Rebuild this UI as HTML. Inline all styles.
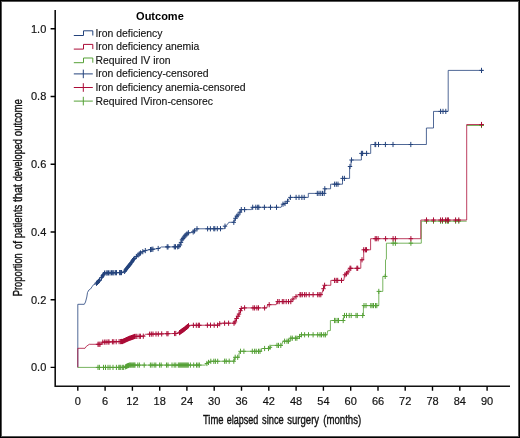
<!DOCTYPE html>
<html><head><meta charset="utf-8"><style>
html,body{margin:0;padding:0;background:#fff;}
body{width:520px;height:438px;overflow:hidden;}
.frame{position:absolute;left:0;top:0;width:520px;height:438px;box-sizing:border-box;border:1px solid #000;box-shadow:inset 0 0 0 1px #555;}
svg{position:absolute;left:0;top:0;will-change:transform;font-family:"Liberation Sans",sans-serif;}
</style></head><body>
<svg width="520" height="438" viewBox="0 0 520 438">
<path d="M55.2 10V386.3H510" fill="none" stroke="#111" stroke-width="1.6"/>
<path d="M50.6 367.4H55.2M50.6 299.7H55.2M50.6 232.0H55.2M50.6 164.2H55.2M50.6 96.5H55.2M50.6 28.8H55.2M77.8 386.3V390.8M105.1 386.3V390.8M132.4 386.3V390.8M159.7 386.3V390.8M186.9 386.3V390.8M214.2 386.3V390.8M241.5 386.3V390.8M268.8 386.3V390.8M296.1 386.3V390.8M323.4 386.3V390.8M350.7 386.3V390.8M378.0 386.3V390.8M405.2 386.3V390.8M432.5 386.3V390.8M459.8 386.3V390.8M487.1 386.3V390.8" fill="none" stroke="#000" stroke-width="1.4"/>
<g font-size="11" fill="#111" stroke="#111" stroke-width="0.18"><text x="46.3" y="371.3" text-anchor="end">0.0</text><text x="46.3" y="303.6" text-anchor="end">0.2</text><text x="46.3" y="235.9" text-anchor="end">0.4</text><text x="46.3" y="168.1" text-anchor="end">0.6</text><text x="46.3" y="100.4" text-anchor="end">0.8</text><text x="46.3" y="32.7" text-anchor="end">1.0</text><text x="77.8" y="405.2" text-anchor="middle">0</text><text x="105.1" y="405.2" text-anchor="middle">6</text><text x="132.4" y="405.2" text-anchor="middle">12</text><text x="159.7" y="405.2" text-anchor="middle">18</text><text x="186.9" y="405.2" text-anchor="middle">24</text><text x="214.2" y="405.2" text-anchor="middle">30</text><text x="241.5" y="405.2" text-anchor="middle">36</text><text x="268.8" y="405.2" text-anchor="middle">42</text><text x="296.1" y="405.2" text-anchor="middle">48</text><text x="323.4" y="405.2" text-anchor="middle">54</text><text x="350.7" y="405.2" text-anchor="middle">60</text><text x="378.0" y="405.2" text-anchor="middle">66</text><text x="405.2" y="405.2" text-anchor="middle">72</text><text x="432.5" y="405.2" text-anchor="middle">78</text><text x="459.8" y="405.2" text-anchor="middle">84</text><text x="487.1" y="405.2" text-anchor="middle">90</text></g>
<g font-size="13.4" fill="#111" stroke="#111" stroke-width="0.4"><text x="202.9" y="424.4" textLength="20.6" lengthAdjust="spacingAndGlyphs">Time</text><text x="226.7" y="424.4" textLength="31.6" lengthAdjust="spacingAndGlyphs">elapsed</text><text x="262.0" y="424.4" textLength="21.7" lengthAdjust="spacingAndGlyphs">since</text><text x="287.3" y="424.4" textLength="31.8" lengthAdjust="spacingAndGlyphs">surgery</text><text x="323.2" y="424.4" textLength="38.0" lengthAdjust="spacingAndGlyphs">(months)</text></g>
<g transform="translate(22.1 295.9) rotate(-90)" font-size="13.4" fill="#111" stroke="#111" stroke-width="0.4"><text x="-0.4" y="0" textLength="43.1" lengthAdjust="spacingAndGlyphs">Proportion</text><text x="46.7" y="0" textLength="8.2" lengthAdjust="spacingAndGlyphs">of</text><text x="57.6" y="0" textLength="33.7" lengthAdjust="spacingAndGlyphs">patients</text><text x="93.9" y="0" textLength="17.8" lengthAdjust="spacingAndGlyphs">that</text><text x="114.7" y="0" textLength="42.1" lengthAdjust="spacingAndGlyphs">developed</text><text x="159.7" y="0" textLength="37.2" lengthAdjust="spacingAndGlyphs">outcome</text></g>
<path d="M77.8 367.4L77.8 304.3L84.3 304.3L85.5 302.0L86.8 297.0L87.5 292.5L88.9 290.0L90.5 289.0L92.0 286.8L93.5 284.7L95.5 284.2L99.5 280.5L100.5 279.5L101.5 277.5L104.6 273.0L123.8 272.5L124.5 271.5L127.0 268.0L130.0 264.5L133.0 260.2L134.5 258.2L137.0 256.0L140.0 253.3L143.0 251.6L146.0 250.3L151.7 249.4L158.5 248.5L161.3 247.0L178.5 246.8L180.0 245.0L182.0 239.8L185.0 235.8L188.2 232.8L192.5 232.5L195.0 230.5L197.0 228.8L224.8 228.7L225.0 226.2L227.3 224.6L228.8 222.3L234.0 222.3L235.0 218.8L236.9 216.2L238.8 214.2L240.4 211.5L241.0 209.6L251.5 209.6L252.3 207.3L281.1 207.3L282.3 204.5L285.0 203.5L287.5 201.3L289.0 199.0L290.0 197.4L308.3 197.4L308.3 193.4L324.8 193.4L324.8 188.8L330.6 188.8L330.6 184.2L342.5 184.2L342.5 178.4L349.6 178.4L349.6 166.5L351.0 166.5L351.0 160.0L361.4 160.0L361.4 153.4L370.7 153.4L370.7 144.5L426.4 144.5L426.4 128.0L433.5 128.0L433.5 111.4L448.2 111.4L448.2 70.4L483.5 70.4" fill="none" stroke="#24437c" stroke-width="0.8"/>
<path d="M94.3 283.3h4.4M96.5 280.7v5.2M95.3 282.4h4.4M97.5 279.8v5.2M96.3 281.4h4.4M98.5 278.8v5.2M97.3 280.5h4.4M99.5 277.9v5.2M99.3 277.5h4.4M101.5 274.9v5.2M100.3 276.0h4.4M102.5 273.4v5.2M101.3 274.6h4.4M103.5 272.0v5.2M102.3 273.1h4.4M104.5 270.5v5.2M104.0 273.0h4.4M106.2 270.4v5.2M105.1 272.9h4.4M107.3 270.3v5.2M106.3 272.9h4.4M108.5 270.3v5.2M107.8 272.9h4.4M110.0 270.3v5.2M109.3 272.8h4.4M111.5 270.2v5.2M110.5 272.8h4.4M112.7 270.2v5.2M111.6 272.8h4.4M113.8 270.2v5.2M113.2 272.7h4.4M115.4 270.1v5.2M114.3 272.7h4.4M116.5 270.1v5.2M117.4 272.6h4.4M119.6 270.0v5.2M118.2 272.6h4.4M120.4 270.0v5.2M119.3 272.6h4.4M121.5 270.0v5.2M122.4 271.4h4.4M124.6 268.8v5.2M123.3 270.1h4.4M125.5 267.5v5.2M124.3 268.7h4.4M126.5 266.1v5.2M125.3 267.4h4.4M127.5 264.8v5.2M126.3 266.2h4.4M128.5 263.6v5.2M127.3 265.1h4.4M129.5 262.5v5.2M128.3 263.8h4.4M130.5 261.2v5.2M129.3 262.4h4.4M131.5 259.8v5.2M130.3 260.9h4.4M132.5 258.3v5.2M131.3 259.5h4.4M133.5 256.9v5.2M132.1 258.5h4.4M134.3 255.9v5.2M134.2 256.5h4.4M136.4 253.9v5.2M135.8 255.1h4.4M138.0 252.5v5.2M137.1 253.9h4.4M139.3 251.3v5.2M138.3 253.0h4.4M140.5 250.4v5.2M140.6 251.7h4.4M142.8 249.1v5.2M143.1 250.6h4.4M145.3 248.0v5.2M148.3 249.6h4.4M150.5 247.0v5.2M149.5 249.4h4.4M151.7 246.8v5.2M150.7 249.2h4.4M152.9 246.6v5.2M156.0 248.5h4.4M158.2 245.9v5.2M165.0 246.9h4.4M167.2 244.3v5.2M165.8 246.9h4.4M168.0 244.3v5.2M172.1 246.8h4.4M174.3 244.2v5.2M173.3 246.8h4.4M175.5 244.2v5.2M175.5 246.8h4.4M177.7 244.2v5.2M176.6 246.4h4.4M178.8 243.8v5.2M177.8 245.0h4.4M180.0 242.4v5.2M178.8 242.4h4.4M181.0 239.8v5.2M179.8 239.8h4.4M182.0 237.2v5.2M180.8 238.5h4.4M183.0 235.9v5.2M181.8 237.1h4.4M184.0 234.5v5.2M182.8 235.8h4.4M185.0 233.2v5.2M183.8 234.9h4.4M186.0 232.3v5.2M184.8 233.9h4.4M187.0 231.3v5.2M186.2 232.8h4.4M188.4 230.2v5.2M191.0 231.9h4.4M193.2 229.3v5.2M192.3 230.9h4.4M194.5 228.3v5.2M194.8 228.8h4.4M197.0 226.2v5.2M205.4 228.8h4.4M207.6 226.2v5.2M208.2 228.8h4.4M210.4 226.2v5.2M211.6 228.7h4.4M213.8 226.1v5.2M212.6 228.7h4.4M214.8 226.1v5.2M215.1 228.7h4.4M217.3 226.1v5.2M218.3 228.7h4.4M220.5 226.1v5.2M222.8 226.2h4.4M225.0 223.6v5.2M231.6 222.3h4.4M233.8 219.7v5.2M233.2 218.3h4.4M235.4 215.7v5.2M234.7 216.2h4.4M236.9 213.6v5.2M235.8 215.0h4.4M238.0 212.4v5.2M237.8 212.2h4.4M240.0 209.6v5.2M239.1 209.6h4.4M241.3 207.0v5.2M242.4 209.6h4.4M244.6 207.0v5.2M250.5 207.3h4.4M252.7 204.7v5.2M253.6 207.3h4.4M255.8 204.7v5.2M255.5 207.3h4.4M257.7 204.7v5.2M256.6 207.3h4.4M258.8 204.7v5.2M262.2 207.3h4.4M264.4 204.7v5.2M268.3 207.3h4.4M270.5 204.7v5.2M274.3 207.3h4.4M276.5 204.7v5.2M280.8 204.2h4.4M283.0 201.6v5.2M282.8 203.5h4.4M285.0 200.9v5.2M285.3 201.3h4.4M287.5 198.7v5.2M288.2 197.4h4.4M290.4 194.8v5.2M293.9 197.4h4.4M296.1 194.8v5.2M296.8 197.4h4.4M299.0 194.8v5.2M299.7 197.4h4.4M301.9 194.8v5.2M302.0 197.4h4.4M304.2 194.8v5.2M315.1 193.4h4.4M317.3 190.8v5.2M316.8 193.4h4.4M319.0 190.8v5.2M318.6 193.4h4.4M320.8 190.8v5.2M320.3 193.4h4.4M322.5 190.8v5.2M322.0 193.4h4.4M324.2 190.8v5.2M322.6 188.8h4.4M324.8 186.2v5.2M332.4 184.2h4.4M334.6 181.6v5.2M334.1 184.2h4.4M336.3 181.6v5.2M335.8 184.2h4.4M338.0 181.6v5.2M340.4 178.4h4.4M342.6 175.8v5.2M342.2 178.4h4.4M344.4 175.8v5.2M347.8 166.5h4.4M350.0 163.9v5.2M349.3 160.0h4.4M351.5 157.4v5.2M359.2 153.4h4.4M361.4 150.8v5.2M360.4 153.4h4.4M362.6 150.8v5.2M364.4 153.4h4.4M366.6 150.8v5.2M372.8 144.5h4.4M375.0 141.9v5.2M373.5 144.5h4.4M375.7 141.9v5.2M376.3 144.5h4.4M378.5 141.9v5.2M383.2 144.5h4.4M385.4 141.9v5.2M390.8 144.5h4.4M393.0 141.9v5.2M408.6 144.5h4.4M410.8 141.9v5.2M438.4 111.4h4.4M440.6 108.8v5.2M440.8 111.4h4.4M443.0 108.8v5.2M443.6 111.4h4.4M445.8 108.8v5.2M479.3 70.4h4.4M481.5 67.8v5.2" fill="none" stroke="#24437c" stroke-width="1"/>
<path d="M77.8 367.4L124.6 367.4L127.0 366.0L129.5 365.1L205.2 365.1L207.7 362.8L210.8 361.3L234.5 361.2L234.5 357.3L239.0 357.3L239.0 352.8L240.3 352.8L240.3 351.3L261.5 351.3L261.5 348.5L269.5 348.5L270.8 345.4L281.5 345.4L283.0 341.2L290.0 341.2L290.0 338.2L299.5 338.2L299.5 334.8L327.0 334.8L327.7 330.8L330.4 330.5L330.4 320.5L343.2 320.5L344.0 315.5L363.4 315.5L363.4 305.6L378.8 305.6L378.8 291.4L382.8 291.4L382.8 276.4L385.5 276.4L385.5 260.0L386.4 259.0L386.4 243.2L421.3 243.2L421.3 221.2L466.7 221.2M466.7 125.5L484.0 125.5" fill="none" stroke="#56a137" stroke-width="0.8"/>
<path d="M95.8 367.4h4.4M98.0 364.8v5.2M97.2 367.4h4.4M99.4 364.8v5.2M101.3 367.4h4.4M103.5 364.8v5.2M103.3 367.4h4.4M105.5 364.8v5.2M105.8 367.4h4.4M108.0 364.8v5.2M107.8 367.4h4.4M110.0 364.8v5.2M110.8 367.4h4.4M113.0 364.8v5.2M114.2 367.4h4.4M116.4 364.8v5.2M116.6 367.4h4.4M118.8 364.8v5.2M117.6 367.4h4.4M119.8 364.8v5.2M118.6 367.4h4.4M120.8 364.8v5.2M120.5 367.4h4.4M122.7 364.8v5.2M121.5 367.4h4.4M123.7 364.8v5.2M123.4 366.8h4.4M125.6 364.2v5.2M124.3 366.3h4.4M126.5 363.7v5.2M125.3 365.8h4.4M127.5 363.2v5.2M126.3 365.5h4.4M128.5 362.9v5.2M127.2 365.1h4.4M129.4 362.5v5.2M128.2 365.1h4.4M130.4 362.5v5.2M129.1 365.1h4.4M131.3 362.5v5.2M130.1 365.1h4.4M132.3 362.5v5.2M131.1 365.1h4.4M133.3 362.5v5.2M132.0 365.1h4.4M134.2 362.5v5.2M132.8 365.1h4.4M135.0 362.5v5.2M135.6 365.1h4.4M137.8 362.5v5.2M137.2 365.1h4.4M139.4 362.5v5.2M142.0 365.1h4.4M144.2 362.5v5.2M148.2 365.1h4.4M150.4 362.5v5.2M149.8 365.1h4.4M152.0 362.5v5.2M152.0 365.1h4.4M154.2 362.5v5.2M153.6 365.1h4.4M155.8 362.5v5.2M157.4 365.1h4.4M159.6 362.5v5.2M159.0 365.1h4.4M161.2 362.5v5.2M164.3 365.1h4.4M166.5 362.5v5.2M165.8 365.1h4.4M168.0 362.5v5.2M169.8 365.1h4.4M172.0 362.5v5.2M172.0 365.1h4.4M174.2 362.5v5.2M173.6 365.1h4.4M175.8 362.5v5.2M176.1 365.1h4.4M178.3 362.5v5.2M177.1 365.1h4.4M179.3 362.5v5.2M178.1 365.1h4.4M180.3 362.5v5.2M179.1 365.1h4.4M181.3 362.5v5.2M180.1 365.1h4.4M182.3 362.5v5.2M181.1 365.1h4.4M183.3 362.5v5.2M182.1 365.1h4.4M184.3 362.5v5.2M183.1 365.1h4.4M185.3 362.5v5.2M184.1 365.1h4.4M186.3 362.5v5.2M185.1 365.1h4.4M187.3 362.5v5.2M186.1 365.1h4.4M188.3 362.5v5.2M188.2 365.1h4.4M190.4 362.5v5.2M191.5 365.1h4.4M193.7 362.5v5.2M194.3 365.1h4.4M196.5 362.5v5.2M195.8 365.1h4.4M198.0 362.5v5.2M197.2 365.1h4.4M199.4 362.5v5.2M204.7 363.5h4.4M206.9 360.9v5.2M206.3 362.4h4.4M208.5 359.8v5.2M208.6 361.3h4.4M210.8 358.7v5.2M211.6 361.3h4.4M213.8 358.7v5.2M213.2 361.3h4.4M215.4 358.7v5.2M215.5 361.3h4.4M217.7 358.7v5.2M222.4 361.2h4.4M224.6 358.6v5.2M224.0 361.2h4.4M226.2 358.6v5.2M227.0 361.2h4.4M229.2 358.6v5.2M231.6 361.2h4.4M233.8 358.6v5.2M233.0 357.3h4.4M235.2 354.7v5.2M235.5 357.3h4.4M237.7 354.7v5.2M238.3 351.3h4.4M240.5 348.7v5.2M241.7 351.3h4.4M243.9 348.7v5.2M250.1 351.3h4.4M252.3 348.7v5.2M252.4 351.3h4.4M254.6 348.7v5.2M254.0 351.3h4.4M256.2 348.7v5.2M256.3 351.3h4.4M258.5 348.7v5.2M257.8 351.3h4.4M260.0 348.7v5.2M262.4 348.5h4.4M264.6 345.9v5.2M266.3 348.5h4.4M268.5 345.9v5.2M267.8 347.3h4.4M270.0 344.7v5.2M274.8 345.4h4.4M277.0 342.8v5.2M276.3 345.4h4.4M278.5 342.8v5.2M278.6 345.4h4.4M280.8 342.8v5.2M282.4 341.2h4.4M284.6 338.6v5.2M284.8 341.2h4.4M287.0 338.6v5.2M286.3 341.2h4.4M288.5 338.6v5.2M288.6 338.2h4.4M290.8 335.6v5.2M290.1 338.2h4.4M292.3 335.6v5.2M293.2 338.2h4.4M295.4 335.6v5.2M294.7 338.2h4.4M296.9 335.6v5.2M297.3 336.5h4.4M299.5 333.9v5.2M299.3 334.8h4.4M301.5 332.2v5.2M302.4 334.8h4.4M304.6 332.2v5.2M306.3 334.8h4.4M308.5 332.2v5.2M310.9 334.8h4.4M313.1 332.2v5.2M315.5 334.8h4.4M317.7 332.2v5.2M317.8 334.8h4.4M320.0 332.2v5.2M319.3 334.8h4.4M321.5 332.2v5.2M321.6 334.8h4.4M323.8 332.2v5.2M323.2 334.8h4.4M325.4 332.2v5.2M332.4 320.5h4.4M334.6 317.9v5.2M332.9 320.5h4.4M335.1 317.9v5.2M334.9 320.5h4.4M337.1 317.9v5.2M336.3 320.5h4.4M338.5 317.9v5.2M341.0 320.5h4.4M343.2 317.9v5.2M342.3 315.5h4.4M344.5 312.9v5.2M344.3 315.5h4.4M346.5 312.9v5.2M347.0 315.5h4.4M349.2 312.9v5.2M349.0 315.5h4.4M351.2 312.9v5.2M353.8 315.5h4.4M356.0 312.9v5.2M355.1 315.5h4.4M357.3 312.9v5.2M360.5 315.5h4.4M362.7 312.9v5.2M361.8 305.6h4.4M364.0 303.0v5.2M363.8 305.6h4.4M366.0 303.0v5.2M368.6 305.6h4.4M370.8 303.0v5.2M369.9 305.6h4.4M372.1 303.0v5.2M371.3 305.6h4.4M373.5 303.0v5.2M373.3 305.6h4.4M375.5 303.0v5.2M374.6 305.6h4.4M376.8 303.0v5.2M376.6 291.4h4.4M378.8 288.8v5.2M383.0 276.4h4.4M385.2 273.8v5.2M390.9 243.2h4.4M393.1 240.6v5.2M393.2 243.2h4.4M395.4 240.6v5.2M408.7 243.2h4.4M410.9 240.6v5.2M424.3 221.2h4.4M426.5 218.6v5.2M431.3 221.2h4.4M433.5 218.6v5.2M438.4 221.2h4.4M440.6 218.6v5.2M440.3 221.2h4.4M442.5 218.6v5.2M443.4 221.2h4.4M445.6 218.6v5.2M445.1 221.2h4.4M447.3 218.6v5.2M446.2 221.2h4.4M448.4 218.6v5.2M453.4 221.2h4.4M455.6 218.6v5.2M456.6 221.2h4.4M458.8 218.6v5.2M479.3 125.5h4.4M481.5 122.9v5.2" fill="none" stroke="#56a137" stroke-width="1"/>
<path d="M77.8 367.4L77.8 348.3L85.0 348.3L86.4 346.3L89.3 344.3L101.3 344.3L102.0 342.2L122.5 341.5L124.0 340.8L129.0 338.5L134.9 336.4L143.5 336.2L145.5 334.3L178.5 333.4L181.0 331.5L184.0 329.5L187.0 327.0L189.0 325.3L219.0 325.2L220.0 323.2L234.5 323.2L235.9 319.5L238.1 316.0L240.0 312.0L241.3 308.5L242.0 307.9L266.9 307.9L267.5 304.7L276.2 304.7L277.0 301.6L290.8 301.6L293.0 299.0L296.2 296.5L297.7 294.7L321.5 294.7L323.0 289.6L325.4 285.3L330.8 285.3L330.8 280.4L343.8 280.4L344.6 275.0L347.0 273.5L349.0 270.4L350.0 268.3L360.8 268.3L360.8 259.8L363.7 259.8L363.7 249.8L370.6 249.8L370.6 238.7L420.8 238.7L420.8 220.0L466.7 220.0L466.7 124.5L484.0 124.5" fill="none" stroke="#ab0c37" stroke-width="0.8"/>
<path d="M95.8 344.3h4.4M98.0 341.7v5.2M96.8 344.3h4.4M99.0 341.7v5.2M97.8 344.3h4.4M100.0 341.7v5.2M100.6 342.2h4.4M102.8 339.6v5.2M102.5 342.1h4.4M104.7 339.5v5.2M103.9 342.1h4.4M106.1 339.5v5.2M105.8 342.0h4.4M108.0 339.4v5.2M106.8 342.0h4.4M109.0 339.4v5.2M110.2 341.8h4.4M112.4 339.2v5.2M111.6 341.8h4.4M113.8 339.2v5.2M114.0 341.7h4.4M116.2 339.1v5.2M116.9 341.6h4.4M119.1 339.0v5.2M118.4 341.6h4.4M120.6 339.0v5.2M119.3 341.5h4.4M121.5 338.9v5.2M120.3 341.5h4.4M122.5 338.9v5.2M121.3 341.0h4.4M123.5 338.4v5.2M122.3 340.6h4.4M124.5 338.0v5.2M123.3 340.1h4.4M125.5 337.5v5.2M124.3 339.6h4.4M126.5 337.0v5.2M125.3 339.2h4.4M127.5 336.6v5.2M126.3 338.7h4.4M128.5 336.1v5.2M127.3 338.3h4.4M129.5 335.7v5.2M128.3 338.0h4.4M130.5 335.4v5.2M129.3 337.6h4.4M131.5 335.0v5.2M130.3 337.3h4.4M132.5 334.7v5.2M131.3 336.9h4.4M133.5 334.3v5.2M132.3 336.5h4.4M134.5 333.9v5.2M133.6 336.4h4.4M135.8 333.8v5.2M134.7 336.4h4.4M136.9 333.8v5.2M137.0 336.3h4.4M139.2 333.7v5.2M138.2 336.3h4.4M140.4 333.7v5.2M141.1 336.2h4.4M143.3 333.6v5.2M147.4 334.2h4.4M149.6 331.6v5.2M149.1 334.1h4.4M151.3 331.5v5.2M150.8 334.1h4.4M153.0 331.5v5.2M153.8 334.0h4.4M156.0 331.4v5.2M156.1 334.0h4.4M158.3 331.4v5.2M159.5 333.9h4.4M161.7 331.3v5.2M164.7 333.7h4.4M166.9 331.1v5.2M165.8 333.7h4.4M168.0 331.1v5.2M172.4 333.5h4.4M174.6 330.9v5.2M173.6 333.5h4.4M175.8 330.9v5.2M177.3 332.6h4.4M179.5 330.0v5.2M178.3 331.9h4.4M180.5 329.3v5.2M179.3 331.2h4.4M181.5 328.6v5.2M180.3 330.5h4.4M182.5 327.9v5.2M181.3 329.8h4.4M183.5 327.2v5.2M182.3 329.1h4.4M184.5 326.5v5.2M183.3 328.2h4.4M185.5 325.6v5.2M184.3 327.4h4.4M186.5 324.8v5.2M185.3 326.6h4.4M187.5 324.0v5.2M186.3 325.7h4.4M188.5 323.1v5.2M191.2 325.3h4.4M193.4 322.7v5.2M194.1 325.3h4.4M196.3 322.7v5.2M196.1 325.3h4.4M198.3 322.7v5.2M197.2 325.3h4.4M199.4 322.7v5.2M205.2 325.2h4.4M207.4 322.6v5.2M208.3 325.2h4.4M210.5 322.6v5.2M212.0 325.2h4.4M214.2 322.6v5.2M215.3 325.2h4.4M217.5 322.6v5.2M217.5 323.8h4.4M219.7 321.2v5.2M222.4 323.2h4.4M224.6 320.6v5.2M226.4 323.2h4.4M228.6 320.6v5.2M231.8 323.2h4.4M234.0 320.6v5.2M232.8 321.9h4.4M235.0 319.3v5.2M234.3 318.5h4.4M236.5 315.9v5.2M235.8 316.2h4.4M238.0 313.6v5.2M236.8 314.1h4.4M239.0 311.5v5.2M238.3 310.7h4.4M240.5 308.1v5.2M239.1 308.5h4.4M241.3 305.9v5.2M242.4 307.9h4.4M244.6 305.3v5.2M250.8 307.9h4.4M253.0 305.3v5.2M252.4 307.9h4.4M254.6 305.3v5.2M254.7 307.9h4.4M256.9 305.3v5.2M256.3 307.9h4.4M258.5 305.3v5.2M262.4 307.9h4.4M264.6 305.3v5.2M267.0 304.7h4.4M269.2 302.1v5.2M275.5 301.6h4.4M277.7 299.0v5.2M277.0 301.6h4.4M279.2 299.0v5.2M280.1 301.6h4.4M282.3 299.0v5.2M281.6 301.6h4.4M283.8 299.0v5.2M284.0 301.6h4.4M286.2 299.0v5.2M286.3 301.6h4.4M288.5 299.0v5.2M288.6 301.6h4.4M290.8 299.0v5.2M290.8 299.0h4.4M293.0 296.4v5.2M293.8 296.7h4.4M296.0 294.1v5.2M297.8 294.7h4.4M300.0 292.1v5.2M298.6 294.7h4.4M300.8 292.1v5.2M300.1 294.7h4.4M302.3 292.1v5.2M302.4 294.7h4.4M304.6 292.1v5.2M304.0 294.7h4.4M306.2 292.1v5.2M307.0 294.7h4.4M309.2 292.1v5.2M310.9 294.7h4.4M313.1 292.1v5.2M315.5 294.7h4.4M317.7 292.1v5.2M317.0 294.7h4.4M319.2 292.1v5.2M318.6 294.7h4.4M320.8 292.1v5.2M321.3 288.7h4.4M323.5 286.1v5.2M322.4 285.3h4.4M324.6 282.7v5.2M332.4 280.4h4.4M334.6 277.8v5.2M334.0 280.4h4.4M336.2 277.8v5.2M335.5 280.4h4.4M337.7 277.8v5.2M339.3 280.4h4.4M341.5 277.8v5.2M342.8 274.8h4.4M345.0 272.1v5.2M344.3 273.8h4.4M346.5 271.2v5.2M345.8 271.9h4.4M348.0 269.3v5.2M347.8 268.3h4.4M350.0 265.7v5.2M348.6 268.3h4.4M350.8 265.7v5.2M354.7 268.3h4.4M356.9 265.7v5.2M355.5 268.3h4.4M357.7 265.7v5.2M359.8 259.8h4.4M362.0 257.2v5.2M361.5 249.8h4.4M363.7 247.2v5.2M363.2 249.8h4.4M365.4 247.2v5.2M364.3 249.8h4.4M366.5 247.2v5.2M373.0 238.7h4.4M375.2 236.1v5.2M374.1 238.7h4.4M376.3 236.1v5.2M375.9 238.7h4.4M378.1 236.1v5.2M383.4 238.7h4.4M385.6 236.1v5.2M390.9 238.7h4.4M393.1 236.1v5.2M393.2 238.7h4.4M395.4 236.1v5.2M408.7 238.7h4.4M410.9 236.1v5.2M424.3 220.0h4.4M426.5 217.4v5.2M431.3 220.0h4.4M433.5 217.4v5.2M438.4 220.0h4.4M440.6 217.4v5.2M440.3 220.0h4.4M442.5 217.4v5.2M443.4 220.0h4.4M445.6 217.4v5.2M445.1 220.0h4.4M447.3 217.4v5.2M446.2 220.0h4.4M448.4 217.4v5.2M453.4 220.0h4.4M455.6 217.4v5.2M456.6 220.0h4.4M458.8 217.4v5.2M479.3 124.5h4.4M481.5 121.9v5.2" fill="none" stroke="#ab0c37" stroke-width="1"/>
<text x="136.1" y="19.6" font-size="11" font-weight="bold" fill="#000">Outcome</text>
<path d="M73.8 35.5H83.5V30.8H92.8V35.5" fill="none" stroke="#24437c" stroke-width="1"/>
<text x="95.4" y="36.6" font-size="10.4" fill="#111" stroke="#111" stroke-width="0.12">Iron deficiency</text>
<path d="M73.8 49.1H83.5V44.4H92.8V49.1" fill="none" stroke="#ab0c37" stroke-width="1"/>
<text x="95.4" y="50.2" font-size="10.4" fill="#111" stroke="#111" stroke-width="0.12">Iron deficiency anemia</text>
<path d="M73.8 62.7H83.5V58.0H92.8V62.7" fill="none" stroke="#56a137" stroke-width="1"/>
<text x="95.4" y="63.8" font-size="10.4" fill="#111" stroke="#111" stroke-width="0.12">Required IV iron</text>
<path d="M73.8 73.9H92.8M83.3 69.6V78.2" fill="none" stroke="#24437c" stroke-width="1"/>
<text x="95.4" y="77.4" font-size="10.4" fill="#111" stroke="#111" stroke-width="0.12">Iron deficiency-censored</text>
<path d="M73.8 87.5H92.8M83.3 83.2V91.8" fill="none" stroke="#ab0c37" stroke-width="1"/>
<text x="95.4" y="91.0" font-size="10.4" fill="#111" stroke="#111" stroke-width="0.12">Iron deficiency anemia-censored</text>
<path d="M73.8 101.1H92.8M83.3 96.8V105.4" fill="none" stroke="#56a137" stroke-width="1"/>
<text x="95.4" y="104.6" font-size="10.4" fill="#111" stroke="#111" stroke-width="0.12">Required IViron-censorec</text>
</svg>
<div class="frame"></div>
</body></html>
